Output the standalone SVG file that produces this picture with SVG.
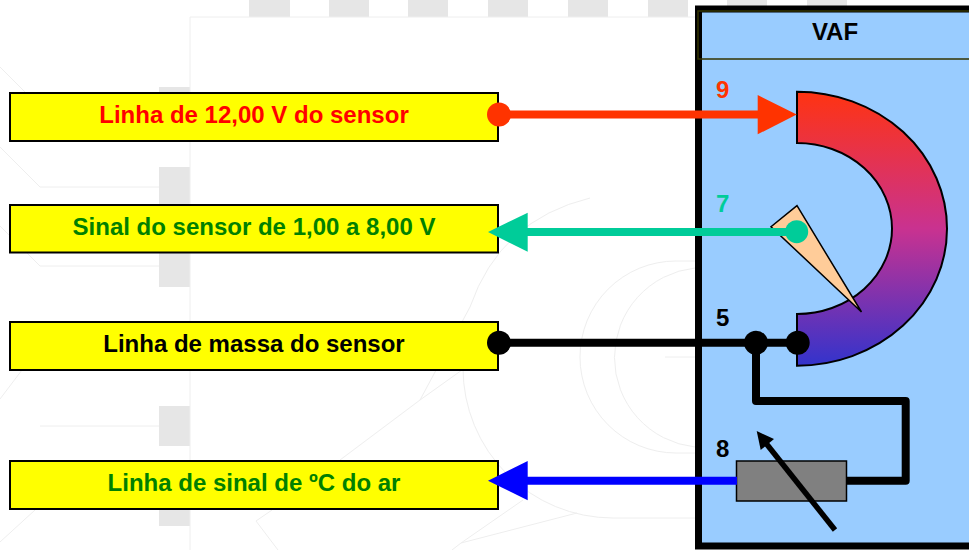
<svg xmlns="http://www.w3.org/2000/svg" width="969" height="550" viewBox="0 0 969 550">
<style>
text{font-family:"Liberation Sans",Arial,sans-serif;font-weight:bold;font-size:24px;text-anchor:middle}
.sq{fill:#e6e6e6}
.bg{fill:none;stroke:#eeeeee;stroke-width:1}
.lbl{fill:#ffff00;stroke:#000;stroke-width:2}
.wire{fill:none;stroke-width:8}
.k{stroke:#000}.r{stroke:#ff3300}.g{stroke:#00cc99}.b{stroke:#0000ff}
</style>
<defs>
<linearGradient id="arcFill" x1="0" y1="0" x2="0" y2="1">
<stop offset="0" stop-color="#ff3311"/>
<stop offset="0.5" stop-color="#c93290"/>
<stop offset="1" stop-color="#3333cc"/>
</linearGradient>
</defs>
<rect width="969" height="550" fill="#fff"/>
<g id="background">
<rect class="sq" x="249" y="0" width="41" height="17"/>
<rect class="sq" x="329" y="0" width="40" height="17"/>
<rect class="sq" x="408" y="0" width="40" height="17"/>
<rect class="sq" x="488" y="0" width="40" height="17"/>
<rect class="sq" x="568" y="0" width="40" height="17"/>
<rect class="sq" x="648" y="0" width="40" height="17"/>
<rect class="sq" x="727" y="0" width="40" height="6"/>
<rect class="sq" x="807" y="0" width="40" height="6"/>
<rect class="sq" x="159" y="87" width="31" height="40"/>
<rect class="sq" x="159" y="167" width="31" height="40"/>
<rect class="sq" x="159" y="247" width="31" height="40"/>
<rect class="sq" x="159" y="406" width="31" height="40"/>
<rect class="sq" x="159" y="486" width="31" height="40"/>
<path class="bg" d="M190,550V17H695"/>
<path class="bg" d="M0,67L25,92M0,147L40,187H159M0,226L40,266H159M0,399L22,370M40,426H159M0,542L35,510"/>
<path class="bg" d="M695,518H613A150,150 0 0 1 463,368M470,307Q500,220 590,198"/>
<path class="bg" d="M695,453H676A96,96 0 0 1 676,261H695M695,447A90,90 0 0 1 695,268M665,357H695"/>
<path class="bg" d="M470,307L420,400L340,460M462,370L420,400M272,510L256,521L278,550M523,500L461,543L452,550M461,543L577,513"/>
</g>
<g id="vaf-box">
<rect x="698.5" y="9" width="274" height="537" fill="#99ccff" stroke="#000" stroke-width="7"/>
<rect x="698" y="11" width="275" height="48" fill="none" stroke="#333300" stroke-width="1.5"/>
<text x="835" y="39.5">VAF</text>
</g>
<g id="arc-sensor">
<path d="M797,91.7A150,137 0 0 1 797,365.7V314A95,85.5 0 0 0 797,143Z" fill="url(#arcFill)" stroke="#000" stroke-width="2"/>
</g>
<g id="needle">
<path d="M797,205.7L771,226.7L861.5,312Z" fill="#ffcc99" stroke="#000" stroke-width="1.5"/>
</g>
<g id="resistor">
<rect x="736.5" y="461" width="110" height="40" fill="#808080" stroke="#000" stroke-width="1.5"/>
</g>
<g id="pin-labels">
<text x="722.7" y="98" fill="#ff3300">9</text>
<text x="722.7" y="212.3" fill="#00cc99">7</text>
<text x="722.7" y="325.7" fill="#000">5</text>
<text x="722.7" y="456.7" fill="#000">8</text>
</g>
<g id="label-12v">
<rect class="lbl" x="10" y="93" width="488" height="48"/>
<text x="254" y="123" fill="#ff0000">Linha de 12,00 V do sensor</text>
</g>
<g id="label-sinal">
<rect class="lbl" x="10" y="205" width="488" height="47.5"/>
<text x="254" y="235" fill="#008000">Sinal do sensor de 1,00 a 8,00 V</text>
</g>
<g id="label-massa">
<rect class="lbl" x="10" y="322" width="488" height="48"/>
<text x="254" y="352" fill="#000">Linha de massa do sensor</text>
</g>
<g id="label-ar">
<rect class="lbl" x="10" y="461" width="488" height="48"/>
<text x="254" y="491" fill="#008000">Linha de sinal de ºC do ar</text>
</g>
<g id="connectors">
<path class="wire k" stroke-linejoin="round" d="M499,342.7H797M756,342.7V401H905.7V480.7H846"/>
<path class="wire b" d="M527,480.7H737"/>
<path d="M488,480.7L527.7,461V500.3Z" fill="#0000ff"/>
<path class="wire g" d="M527,232H796"/>
<path d="M488,232L527.7,212.7V251.7Z" fill="#00cc99"/>
<path class="wire r" d="M499,114.6H760"/>
<path d="M796.7,114.6L757.7,95V134.3Z" fill="#ff3300"/>
<circle cx="499" cy="114.6" r="12" fill="#ff3300"/>
<circle cx="499" cy="342.7" r="12" fill="#000"/>
<circle cx="756" cy="342.7" r="12" fill="#000"/>
<circle cx="797.7" cy="342.7" r="12" fill="#000"/>
<circle cx="796.7" cy="231.7" r="11.5" fill="#00cc99"/>
<path d="M835,530L765,442" fill="none" stroke="#000" stroke-width="5.5"/>
<path d="M756.7,431L774,439L760.7,450Z" fill="#000"/>
</g>
</svg>
